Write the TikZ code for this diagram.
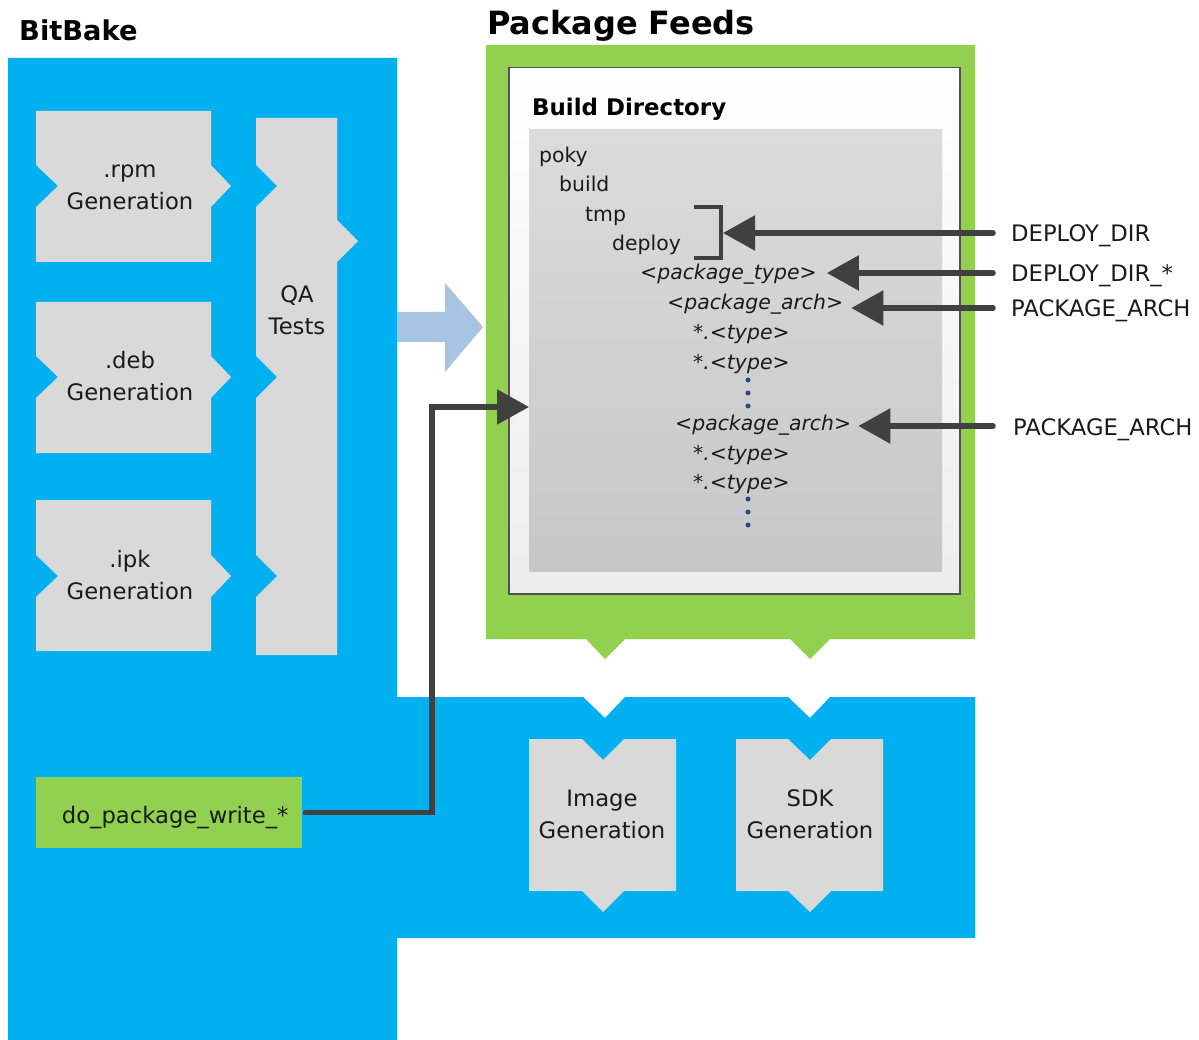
\documentclass[tikz,border=0pt]{standalone}
\usepackage{fontspec}
\setmainfont{DejaVu Sans}
\usetikzlibrary{arrows.meta,calc}
\definecolor{bbblue}{HTML}{00B0F0}
\definecolor{pfgreen}{HTML}{92D050}
\definecolor{boxgray}{HTML}{D9D9D9}
\definecolor{darkline}{HTML}{404040}
\definecolor{lightarrow}{HTML}{A7C4E0}
\definecolor{dotblue}{HTML}{2A4A7F}
\definecolor{txt}{HTML}{1A1A1A}
\begin{document}
\begin{tikzpicture}[x=1pt,y=-1pt,
  lbl/.style={font=\fontsize{22.7}{32}\selectfont, align=center, text=txt, inner sep=0pt},
  tree/.style={font=\fontsize{20.4}{24}\selectfont\itshape, text=txt, inner sep=0pt, anchor=base west},
  treeup/.style={font=\fontsize{20.4}{24}\selectfont, text=txt, inner sep=0pt, anchor=base west},
  var/.style={font=\fontsize{22.7}{27}\selectfont, text=txt, inner sep=0pt, anchor=base west},
  title/.style={font=\bfseries\fontsize{#1}{#1}\selectfont, text=black, inner sep=0pt, anchor=base west},
  graybox/.style={fill=boxgray, draw=none},
  conn/.style={draw=darkline, line width=5.5pt, line cap=round, -{Triangle[length=32pt,width=34pt]}},
  dotmark/.style={fill=dotblue},
]
\useasboundingbox (0,0) rectangle (1199,1040);
\fill[white] (0,0) rectangle (1199,1040);

% titles
\node[title=27.3] (bitbake) at (19,41) {BitBake};
\node[title=32] (feeds) at (487,35) {Package Feeds};

% BitBake blue region
\fill[bbblue] (8,58) -- (397,58) -- (397,697) -- (583,697) -- (605,718) -- (625,697)
  -- (788,697) -- (810,718) -- (830,697) -- (975,697) -- (975,938) -- (397,938)
  -- (397,1040) -- (8,1040) -- cycle;

% Package feeds green region
\fill[pfgreen] (486,45) -- (975,45) -- (975,639) -- (830,639) -- (810,659) -- (790,639)
  -- (625,639) -- (605,659) -- (586,639) -- (486,639) -- cycle;

% generation boxes
\fill[boxgray] (36,111) -- (211,111) -- (211,165) -- (231,186) -- (211,207) -- (211,262)
  -- (36,262) -- (36,207) -- (58,186) -- (36,165) -- cycle;
\fill[boxgray] (36,302) -- (211,302) -- (211,356) -- (231,377) -- (211,398) -- (211,453)
  -- (36,453) -- (36,398) -- (58,377) -- (36,356) -- cycle;
\fill[boxgray] (36,500) -- (211,500) -- (211,555) -- (231,576) -- (211,597) -- (211,651)
  -- (36,651) -- (36,597) -- (58,576) -- (36,555) -- cycle;
% QA tests
\fill[boxgray] (256,118) -- (337,118) -- (337,220) -- (358,241) -- (337,262) -- (337,655)
  -- (256,655) -- (256,597) -- (277,576) -- (256,555) -- (256,398) -- (277,377) -- (256,356)
  -- (256,207) -- (277,186) -- (256,165) -- cycle;

\node[lbl] (rpm) at (130,187.5) {\strut.rpm\\\strut Generation};
\node[lbl] (deb) at (130,378.5) {\strut.deb\\\strut Generation};
\node[lbl] (ipk) at (130,577.5) {\strut.ipk\\\strut Generation};
\node[lbl] (qa) at (297,312) {\strut QA\\\strut Tests};

% image / sdk boxes
\fill[boxgray] (529,739) -- (582,739) -- (603,760) -- (624,739) -- (676,739) -- (676,891)
  -- (624,891) -- (603,912) -- (582,891) -- (529,891) -- cycle;
\fill[boxgray] (736,739) -- (788,739) -- (810,760) -- (831,739) -- (883,739) -- (883,891)
  -- (831,891) -- (810,912) -- (788,891) -- (736,891) -- cycle;
\node[lbl] (img) at (602,816.5) {\strut Image\\\strut Generation};
\node[lbl] (sdk) at (810,816.5) {\strut SDK\\\strut Generation};

% light blue arrow
\fill[lightarrow] (397,312) -- (445,312) -- (445,283) -- (483,327) -- (445,372) -- (445,342)
  -- (397,342) -- cycle;

% build directory frame
\node[draw=black!68, line width=1.5pt, top color=white, bottom color=white!93!black,
  minimum width=451pt, minimum height=526pt, inner sep=0pt, anchor=north west]
  (frame) at (508,67) {};
\node[title=22.9] (bdtitle) at (532,116) {Build Directory};
\node[top color=black!14, bottom color=black!22, draw=none,
  minimum width=413pt, minimum height=442pt, inner sep=0pt, anchor=north west]
  (builddir) at (529,129) {};

% tree
\node[treeup] (poky) at (539,163) {poky};
\node[treeup] (build) at (559,192) {build};
\node[treeup] (tmp) at (585,222) {tmp};
\node[treeup] (deploy) at (612,251) {deploy};
\node[tree] (ptype) at (640,280) {<package\_type>};
\node[tree] (parch) at (667,310) {<package\_arch>};
\node[tree] (ty1) at (693,340) {*.<type>};
\node[tree] (ty2) at (693,370) {*.<type>};
\node[tree] (parch2) at (675,430) {<package\_arch>};
\node[tree] (ty3) at (693,460) {*.<type>};
\node[tree] (ty4) at (693,489) {*.<type>};
\foreach \yy in {380,393,406,499,512,525}
  \fill[dotmark] (748,\yy) circle[radius=2.5pt];

% bracket
\draw[darkline, line width=4pt] (694,207) -- (721,207) -- (721,258) -- (694,258);
\coordinate (bkt) at (723,233);

% variable labels
\node[var] (L1) at (1011,242) {DEPLOY\_DIR};
\node[var] (L2) at (1011,282) {DEPLOY\_DIR\_*};
\node[var] (L3) at (1011,317) {PACKAGE\_ARCH};
\node[var] (L4) at (1013,435) {PACKAGE\_ARCH};
\coordinate (s1) at ([xshift=-18pt,yshift=9pt]L1.base west);
\coordinate (s2) at ([xshift=-18pt,yshift=9pt]L2.base west);
\coordinate (s3) at ([xshift=-18pt,yshift=9pt]L3.base west);
\coordinate (s4) at ([xshift=-20pt,yshift=9pt]L4.base west);
\coordinate (t2) at ([xshift=10pt]ptype.east);
\coordinate (t3) at ([xshift=8pt]parch.east);
\coordinate (t4) at ([xshift=7pt]parch2.east);
\draw[conn] (s1) -- (s1 -| bkt);
\draw[conn] (s2) -- (s2 -| t2);
\draw[conn] (s3) -- (s3 -| t3);
\draw[conn] (s4) -- (s4 -| t4);

% do_package_write
\node[fill=pfgreen, minimum width=266pt, minimum height=71pt, inner sep=0pt,
  text height=22pt, text depth=1pt,
  font=\fontsize{22.7}{27}\selectfont, text=txt, anchor=north west]
  (dopkg) at (36,777) {\hspace*{12pt}do\_package\_write\_*};
\coordinate (bend) at (432,407);
\draw[conn] ([xshift=3pt]dopkg.east) -| (bend) -- (bend -| builddir.west);
\end{tikzpicture}
\end{document}
